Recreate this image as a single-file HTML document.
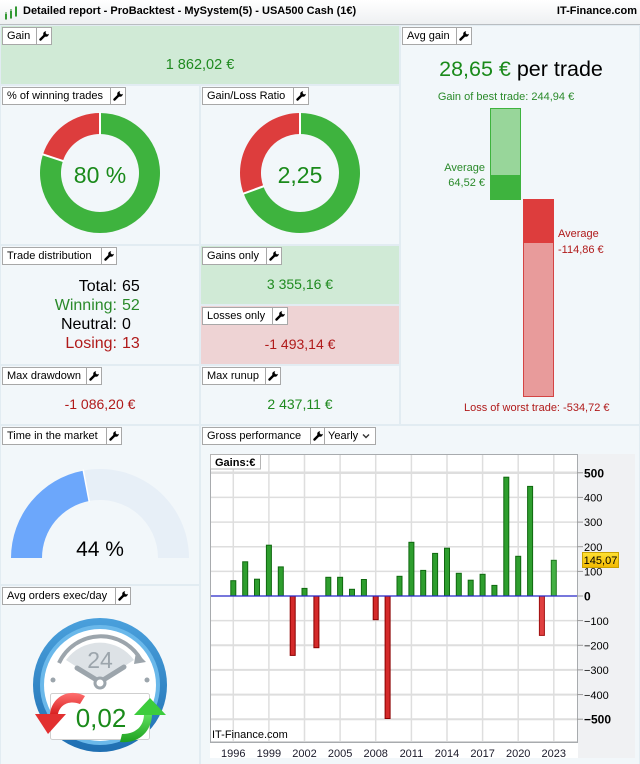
<!DOCTYPE html>
<html><head><meta charset="utf-8">
<style>
*{margin:0;padding:0;box-sizing:border-box}
body{width:640px;height:764px;overflow:hidden;background:#e2ecf2;font-family:"Liberation Sans",Arial,sans-serif;position:relative}
.p{position:absolute;background:#f2f7fa}
.g{background:#d0ead6}
.r{background:#eed3d4}
.lb{position:absolute;height:18px;display:flex;background:#fff;border:1px solid #a8a8a8;font-size:11px;line-height:16px;color:#000;z-index:3}
.lb .t{padding-left:4px;border-right:1px solid #a8a8a8;white-space:nowrap}
.lb .w{width:14px;display:flex;align-items:center;justify-content:center}
.v{position:absolute;text-align:center;white-space:nowrap}
#title{position:absolute;left:0;top:0;width:640px;height:25px;background:linear-gradient(#ffffff,#eef0f2);border-bottom:1px solid #b9bdc1}
</style></head><body>
<div id="title"></div>
<svg style="position:absolute;left:4px;top:5px" width="16" height="16"><rect x="1" y="9" width="2" height="5" fill="#3aa83a"/><rect x="6" y="6" width="2" height="7" fill="#3aa83a"/><rect x="11" y="2" width="2" height="9" fill="#3aa83a"/><line x1="2" y1="7" x2="2" y2="15" stroke="#2a8a2a"/><line x1="7" y1="4" x2="7" y2="14" stroke="#2a8a2a"/><line x1="12" y1="1" x2="12" y2="12" stroke="#2a8a2a"/></svg>
<div style="position:absolute;left:23px;top:5px;font-size:11px;font-weight:bold;white-space:nowrap">Detailed report - ProBacktest - MySystem(5) - USA500 Cash (1€)</div>
<div style="position:absolute;right:3px;top:5px;font-size:11px;font-weight:bold">IT-Finance.com</div>

<div class="p g" style="left:1px;top:26px;width:398px;height:58px"></div>
<div class="p" style="left:401px;top:26px;width:238px;height:398px"></div>
<div class="p" style="left:1px;top:86px;width:198px;height:158px"></div>
<div class="p" style="left:201px;top:86px;width:198px;height:158px"></div>
<div class="p" style="left:1px;top:246px;width:198px;height:118px"></div>
<div class="p g" style="left:201px;top:246px;width:198px;height:58px"></div>
<div class="p r" style="left:201px;top:306px;width:198px;height:58px"></div>
<div class="p" style="left:1px;top:366px;width:198px;height:58px"></div>
<div class="p" style="left:201px;top:366px;width:198px;height:58px"></div>
<div class="p" style="left:1px;top:426px;width:198px;height:158px"></div>
<div class="p" style="left:1px;top:586px;width:198px;height:178px"></div>
<div class="p" style="left:201px;top:426px;width:438px;height:338px"></div>

<!-- labels -->
<div class="lb" style="left:2px;top:27px"><div class="t" style="width:34px">Gain</div><div class="w"><svg width="10" height="10"><path d="M1.5 8.5 L5.5 4.5" stroke="#000" stroke-width="2.4" stroke-linecap="round"/><circle cx="7" cy="3" r="2.8" fill="#000"/><path d="M7.5 -0.5 L10.5 2.5 L8 3.5 L6.5 2 Z" fill="#fff"/></svg></div></div>
<div class="lb" style="left:402px;top:27px"><div class="t" style="width:54px">Avg gain</div><div class="w"><svg width="10" height="10"><path d="M1.5 8.5 L5.5 4.5" stroke="#000" stroke-width="2.4" stroke-linecap="round"/><circle cx="7" cy="3" r="2.8" fill="#000"/><path d="M7.5 -0.5 L10.5 2.5 L8 3.5 L6.5 2 Z" fill="#fff"/></svg></div></div>
<div class="lb" style="left:2px;top:87px"><div class="t" style="width:108px">% of winning trades</div><div class="w"><svg width="10" height="10"><path d="M1.5 8.5 L5.5 4.5" stroke="#000" stroke-width="2.4" stroke-linecap="round"/><circle cx="7" cy="3" r="2.8" fill="#000"/><path d="M7.5 -0.5 L10.5 2.5 L8 3.5 L6.5 2 Z" fill="#fff"/></svg></div></div>
<div class="lb" style="left:202px;top:87px"><div class="t" style="width:91px">Gain/Loss Ratio</div><div class="w"><svg width="10" height="10"><path d="M1.5 8.5 L5.5 4.5" stroke="#000" stroke-width="2.4" stroke-linecap="round"/><circle cx="7" cy="3" r="2.8" fill="#000"/><path d="M7.5 -0.5 L10.5 2.5 L8 3.5 L6.5 2 Z" fill="#fff"/></svg></div></div>
<div class="lb" style="left:2px;top:247px"><div class="t" style="width:99px">Trade distribution</div><div class="w"><svg width="10" height="10"><path d="M1.5 8.5 L5.5 4.5" stroke="#000" stroke-width="2.4" stroke-linecap="round"/><circle cx="7" cy="3" r="2.8" fill="#000"/><path d="M7.5 -0.5 L10.5 2.5 L8 3.5 L6.5 2 Z" fill="#fff"/></svg></div></div>
<div class="lb" style="left:202px;top:247px"><div class="t" style="width:64px">Gains only</div><div class="w"><svg width="10" height="10"><path d="M1.5 8.5 L5.5 4.5" stroke="#000" stroke-width="2.4" stroke-linecap="round"/><circle cx="7" cy="3" r="2.8" fill="#000"/><path d="M7.5 -0.5 L10.5 2.5 L8 3.5 L6.5 2 Z" fill="#fff"/></svg></div></div>
<div class="lb" style="left:202px;top:307px"><div class="t" style="width:70px">Losses only</div><div class="w"><svg width="10" height="10"><path d="M1.5 8.5 L5.5 4.5" stroke="#000" stroke-width="2.4" stroke-linecap="round"/><circle cx="7" cy="3" r="2.8" fill="#000"/><path d="M7.5 -0.5 L10.5 2.5 L8 3.5 L6.5 2 Z" fill="#fff"/></svg></div></div>
<div class="lb" style="left:2px;top:367px"><div class="t" style="width:84px">Max drawdown</div><div class="w"><svg width="10" height="10"><path d="M1.5 8.5 L5.5 4.5" stroke="#000" stroke-width="2.4" stroke-linecap="round"/><circle cx="7" cy="3" r="2.8" fill="#000"/><path d="M7.5 -0.5 L10.5 2.5 L8 3.5 L6.5 2 Z" fill="#fff"/></svg></div></div>
<div class="lb" style="left:202px;top:367px"><div class="t" style="width:63px">Max runup</div><div class="w"><svg width="10" height="10"><path d="M1.5 8.5 L5.5 4.5" stroke="#000" stroke-width="2.4" stroke-linecap="round"/><circle cx="7" cy="3" r="2.8" fill="#000"/><path d="M7.5 -0.5 L10.5 2.5 L8 3.5 L6.5 2 Z" fill="#fff"/></svg></div></div>
<div class="lb" style="left:2px;top:427px"><div class="t" style="width:104px">Time in the market</div><div class="w"><svg width="10" height="10"><path d="M1.5 8.5 L5.5 4.5" stroke="#000" stroke-width="2.4" stroke-linecap="round"/><circle cx="7" cy="3" r="2.8" fill="#000"/><path d="M7.5 -0.5 L10.5 2.5 L8 3.5 L6.5 2 Z" fill="#fff"/></svg></div></div>
<div class="lb" style="left:2px;top:587px"><div class="t" style="width:113px">Avg orders exec/day</div><div class="w"><svg width="10" height="10"><path d="M1.5 8.5 L5.5 4.5" stroke="#000" stroke-width="2.4" stroke-linecap="round"/><circle cx="7" cy="3" r="2.8" fill="#000"/><path d="M7.5 -0.5 L10.5 2.5 L8 3.5 L6.5 2 Z" fill="#fff"/></svg></div></div>
<div class="lb" style="left:202px;top:427px"><div class="t" style="width:108px">Gross performance</div><div class="w" style="border-right:1px solid #a8a8a8"><svg width="10" height="10"><path d="M1.5 8.5 L5.5 4.5" stroke="#000" stroke-width="2.4" stroke-linecap="round"/><circle cx="7" cy="3" r="2.8" fill="#000"/><path d="M7.5 -0.5 L10.5 2.5 L8 3.5 L6.5 2 Z" fill="#fff"/></svg></div><div style="width:50px;padding-left:3px;display:flex;align-items:center;gap:4px">Yearly<svg width="8" height="6"><path d="M1 1.5 L4 4.5 L7 1.5" stroke="#333" stroke-width="1.4" fill="none"/></svg></div></div>

<!-- values -->
<div class="v" style="left:100px;width:200px;top:57px;font-size:14.5px;color:#1f8a1f">1 862,02 €</div>
<div class="v" style="left:201px;width:198px;top:276px;font-size:14px;color:#1f8a1f">3 355,16 €</div>
<div class="v" style="left:201px;width:198px;top:336px;font-size:14px;color:#b01a1a">-1 493,14 €</div>
<div class="v" style="left:1px;width:198px;top:396px;font-size:14px;color:#b01a1a">-1 086,20 €</div>
<div class="v" style="left:201px;width:198px;top:396px;font-size:14px;color:#1f8a1f">2 437,11 €</div>

<svg style="position:absolute;left:0;top:0;z-index:2" width="640" height="764" font-family="Liberation Sans, Arial, sans-serif">
<defs>
<linearGradient id="ring" x1="0" y1="0" x2="0" y2="1"><stop offset="0" stop-color="#4aa0dc"/><stop offset="1" stop-color="#1f6fb2"/></linearGradient>
<linearGradient id="yel" x1="0" y1="0" x2="0" y2="1"><stop offset="0" stop-color="#ffe233"/><stop offset="1" stop-color="#f2b800"/></linearGradient>
<linearGradient id="ra" x1="0" y1="0" x2="0" y2="1"><stop offset="0" stop-color="#ff7070"/><stop offset="1" stop-color="#d82020"/></linearGradient>
<linearGradient id="ga" x1="0" y1="1" x2="0" y2="0"><stop offset="0" stop-color="#1fa01f"/><stop offset="1" stop-color="#5ee05e"/></linearGradient>
</defs>

<!-- pie 1 -->
<path d="M100 113 A60 60 0 1 1 42.94 154.46 L62.91 160.95 A39 39 0 1 0 100 134 Z" fill="#3eb33e"/>
<path d="M42.94 154.46 A60 60 0 0 1 100 113 L100 134 A39 39 0 0 0 62.91 160.95 Z" fill="#dd3d3d"/>
<line x1="100" y1="112" x2="100" y2="135" stroke="#fff" stroke-width="2"/>
<line x1="41.9" y1="154.1" x2="63.9" y2="161.3" stroke="#fff" stroke-width="2"/>
<text x="100" y="183" font-size="23" text-anchor="middle" fill="#1a8a1a">80 %</text>
<!-- pie 2 -->
<path d="M300 113 A60 60 0 1 1 243.62 193.52 L263.35 186.34 A39 39 0 1 0 300 134 Z" fill="#3eb33e"/>
<path d="M243.62 193.52 A60 60 0 0 1 300 113 L300 134 A39 39 0 0 0 263.35 186.34 Z" fill="#dd3d3d"/>
<line x1="300" y1="112" x2="300" y2="135" stroke="#fff" stroke-width="2"/>
<line x1="242.6" y1="193.9" x2="264.3" y2="186" stroke="#fff" stroke-width="2"/>
<text x="300" y="183" font-size="23" text-anchor="middle" fill="#1a8a1a">2,25</text>

<!-- trade distribution -->
<g font-size="16">
<text x="117" y="291" text-anchor="end" fill="#000">Total:</text><text x="122" y="291" fill="#000">65</text>
<text x="117" y="310" text-anchor="end" fill="#2a8a2a">Winning:</text><text x="122" y="310" fill="#2a8a2a">52</text>
<text x="117" y="329" text-anchor="end" fill="#000">Neutral:</text><text x="122" y="329" fill="#000">0</text>
<text x="117" y="348" text-anchor="end" fill="#b01a1a">Losing:</text><text x="122" y="348" fill="#b01a1a">13</text>
</g>

<!-- avg gain -->
<text x="521" y="76" font-size="21.5" text-anchor="middle"><tspan fill="#1a8a1a">28,65 €</tspan><tspan fill="#000"> per trade</tspan></text>
<text x="506" y="100" font-size="11" text-anchor="middle" fill="#2a8a2a">Gain of best trade: 244,94 €</text>
<rect x="490.5" y="108.5" width="30" height="91" fill="#98d69a" stroke="#3eb33e"/>
<rect x="490" y="175" width="31" height="25" fill="#3eb33e"/>
<text x="485" y="171" font-size="11" text-anchor="end" fill="#2a8a2a">Average</text>
<text x="485" y="186" font-size="11" text-anchor="end" fill="#2a8a2a">64,52 €</text>
<rect x="523.5" y="199.5" width="30" height="197" fill="#e89b9b" stroke="#d44444"/>
<rect x="523" y="199" width="31" height="44" fill="#dd3d3d"/>
<text x="558" y="237" font-size="11" fill="#b01a1a">Average</text>
<text x="558" y="253" font-size="11" fill="#b01a1a">-114,86 €</text>
<text x="464" y="411" font-size="11" fill="#b01a1a">Loss of worst trade: -534,72 €</text>

<!-- time in market -->
<path d="M83.32 470.58 A89 89 0 0 1 189 558 L158 558 A58 58 0 0 0 89.13 501.03 Z" fill="#e7eff7"/>
<path d="M11 558 A89 89 0 0 1 83.32 470.58 L89.13 501.03 A58 58 0 0 0 42 558 Z" fill="#6ca7fb"/>
<line x1="83.1" y1="469.5" x2="89.3" y2="502" stroke="#fff" stroke-width="1.5"/>
<text x="100" y="556" font-size="21" text-anchor="middle" fill="#000">44 %</text>

<!-- clock -->
<circle cx="100" cy="685" r="67" fill="url(#ring)"/>
<circle cx="100" cy="685" r="60" fill="#6ab8ea"/>
<circle cx="100" cy="685" r="56" fill="#ffffff"/>
<path d="M100 682 L66 660 A42 42 0 0 1 134 660 Z" fill="#dde2e6"/>
<path d="M59 663 A46 46 0 0 1 141 660" stroke="#9ca5ac" stroke-width="4" fill="none"/>
<path d="M136 652 L146 662 L134 664 Z" fill="#9ca5ac"/>
<text x="100" y="668" font-size="23" text-anchor="middle" fill="#9ca5ac">24</text>
<line x1="100" y1="682" x2="77" y2="668" stroke="#9ca5ac" stroke-width="5" stroke-linecap="round"/>
<line x1="100" y1="682" x2="124" y2="667" stroke="#9ca5ac" stroke-width="5" stroke-linecap="round"/>
<circle cx="100" cy="683" r="5" fill="#fff" stroke="#9ca5ac" stroke-width="3"/>
<circle cx="53" cy="680" r="2.5" fill="#9ca5ac"/>
<circle cx="147" cy="680" r="2.5" fill="#9ca5ac"/>
<rect x="50.5" y="693.5" width="99" height="46" rx="2" fill="#fff" stroke="#cfcfcf"/>
<text x="101" y="727" font-size="26" text-anchor="middle" fill="#1a8a1a">0,02</text>
<path d="M85 696 C70 688 52 696 50 714 L58 714 C60 704 70 700 80 704 Z" fill="url(#ra)"/>
<path d="M35 714 L66 714 L48 734 Z" fill="#e23030"/>
<path d="M120 742 C140 744 152 730 152 714 L144 714 C144 726 136 734 122 734 Z" fill="url(#ga)"/>
<path d="M134 715 L166 715 L150 698 Z" fill="#3ccc3c"/>

<!-- chart -->
<rect x="210" y="454" width="425" height="304" fill="#f0f1f3"/>
<rect x="210.5" y="454.5" width="367" height="287.5" fill="#fff" stroke="#a8abae"/>
<rect x="210" y="742" width="368" height="16" fill="#fff"/>
<g stroke="#dedede" stroke-width="1.5">
<line x1="211" x2="577" y1="472.8" y2="472.8" stroke-width="2.5"/>
<line x1="211" x2="577" y1="497.4" y2="497.4"/>
<line x1="211" x2="577" y1="522.1" y2="522.1"/>
<line x1="211" x2="577" y1="546.7" y2="546.7"/>
<line x1="211" x2="577" y1="571.4" y2="571.4"/>
<line x1="211" x2="577" y1="620.6" y2="620.6"/>
<line x1="211" x2="577" y1="645.3" y2="645.3" stroke-width="2"/>
<line x1="211" x2="577" y1="669.9" y2="669.9" stroke-width="2"/>
<line x1="211" x2="577" y1="694.6" y2="694.6" stroke-width="2"/>
<line x1="211" x2="577" y1="719.2" y2="719.2" stroke-width="2"/>
<line y1="455" y2="741" x1="233.3" x2="233.3"/>
<line y1="455" y2="741" x1="268.9" x2="268.9"/>
<line y1="455" y2="741" x1="304.5" x2="304.5"/>
<line y1="455" y2="741" x1="340.1" x2="340.1"/>
<line y1="455" y2="741" x1="375.7" x2="375.7"/>
<line y1="455" y2="741" x1="411.4" x2="411.4"/>
<line y1="455" y2="741" x1="447" x2="447"/>
<line y1="455" y2="741" x1="482.6" x2="482.6"/>
<line y1="455" y2="741" x1="518.2" x2="518.2"/>
<line y1="455" y2="741" x1="553.8" x2="553.8"/>
</g>
<line x1="577.5" y1="454" x2="577.5" y2="742" stroke="#a8abae"/>
<line x1="210" y1="742.5" x2="578" y2="742.5" stroke="#a8abae"/>
<g stroke-width="1">
<g fill="#2e9e2e" stroke="#0f680f">
<rect x="230.8" y="580.7" width="5" height="15.3"/>
<rect x="242.7" y="561.8" width="5" height="34.2"/>
<rect x="254.5" y="579.2" width="5" height="16.8"/>
<rect x="266.4" y="545.2" width="5" height="50.8"/>
<rect x="278.3" y="566.9" width="5" height="29.1"/>
<rect x="302.0" y="588.4" width="5" height="7.6"/>
<rect x="325.8" y="577.3" width="5" height="18.7"/>
<rect x="337.6" y="577.3" width="5" height="18.7"/>
<rect x="349.5" y="589.3" width="5" height="6.7"/>
<rect x="361.4" y="579.5" width="5" height="16.5"/>
<rect x="397.0" y="576.3" width="5" height="19.7"/>
<rect x="408.9" y="542.3" width="5" height="53.7"/>
<rect x="420.7" y="570.4" width="5" height="25.6"/>
<rect x="432.6" y="553.4" width="5" height="42.6"/>
<rect x="444.5" y="548.2" width="5" height="47.8"/>
<rect x="456.3" y="573.3" width="5" height="22.7"/>
<rect x="468.2" y="580.2" width="5" height="15.8"/>
<rect x="480.1" y="574.3" width="5" height="21.7"/>
<rect x="491.9" y="585.4" width="5" height="10.6"/>
<rect x="503.8" y="477.2" width="5" height="118.8"/>
<rect x="515.7" y="556.3" width="5" height="39.7"/>
<rect x="527.6" y="486.4" width="5" height="109.6"/>
</g>
<rect x="551.3" y="560.3" width="5" height="35.7" fill="#44b044" stroke="#1f7a1f"/>
<g fill="#d42a2a" stroke="#8a0000">
<rect x="290.2" y="596" width="5" height="59.4"/>
<rect x="313.9" y="596" width="5" height="51.7"/>
<rect x="373.2" y="596" width="5" height="23.7"/>
<rect x="385.1" y="596" width="5" height="122.5"/>
</g>
<rect x="539.4" y="596" width="5" height="39.4" fill="#e04040" stroke="#a01010"/>
</g>
<line x1="211" y1="596" x2="577" y2="596" stroke="#2626c8" stroke-width="1.2"/>
<rect x="210.5" y="454.5" width="50" height="14.5" fill="#fff" stroke="#b5b5b5"/>
<text x="215" y="466" font-size="11" font-weight="bold" fill="#000">Gains:€</text>
<text x="212" y="738" font-size="11" fill="#000">IT-Finance.com</text>
<g stroke="#9a9a9a">
<line x1="577" x2="583" y1="472.8" y2="472.8"/><line x1="577" x2="583" y1="497.4" y2="497.4"/><line x1="577" x2="583" y1="522.1" y2="522.1"/><line x1="577" x2="583" y1="546.7" y2="546.7"/><line x1="577" x2="583" y1="571.4" y2="571.4"/><line x1="577" x2="583" y1="596" y2="596"/><line x1="577" x2="583" y1="620.6" y2="620.6"/><line x1="577" x2="583" y1="645.3" y2="645.3"/><line x1="577" x2="583" y1="669.9" y2="669.9"/><line x1="577" x2="583" y1="694.6" y2="694.6"/><line x1="577" x2="583" y1="719.2" y2="719.2"/>
</g>
<g font-size="11" fill="#000">
<text x="584" y="477.5" font-weight="bold" font-size="12">500</text>
<text x="584" y="501.5">400</text>
<text x="584" y="526">300</text>
<text x="584" y="551">200</text>
<text x="584" y="575.5">100</text>
<text x="584" y="600.5" font-weight="bold" font-size="12">0</text>
<text x="584" y="625">−100</text>
<text x="584" y="649.5">−200</text>
<text x="584" y="674">−300</text>
<text x="584" y="699">−400</text>
<text x="584" y="723.5" font-weight="bold" font-size="12">−500</text>
</g>
<rect x="582.5" y="552.5" width="36" height="15" fill="url(#yel)" stroke="#c9a200"/>
<text x="600.5" y="564" font-size="11" text-anchor="middle" fill="#000">145,07</text>
<g font-size="11" fill="#1a1a2a" text-anchor="middle">
<text x="233.3" y="757">1996</text><text x="268.9" y="757">1999</text><text x="304.5" y="757">2002</text><text x="340.1" y="757">2005</text><text x="375.7" y="757">2008</text><text x="411.4" y="757">2011</text><text x="447" y="757">2014</text><text x="482.6" y="757">2017</text><text x="518.2" y="757">2020</text><text x="553.8" y="757">2023</text>
</g>
</svg>
</body></html>
